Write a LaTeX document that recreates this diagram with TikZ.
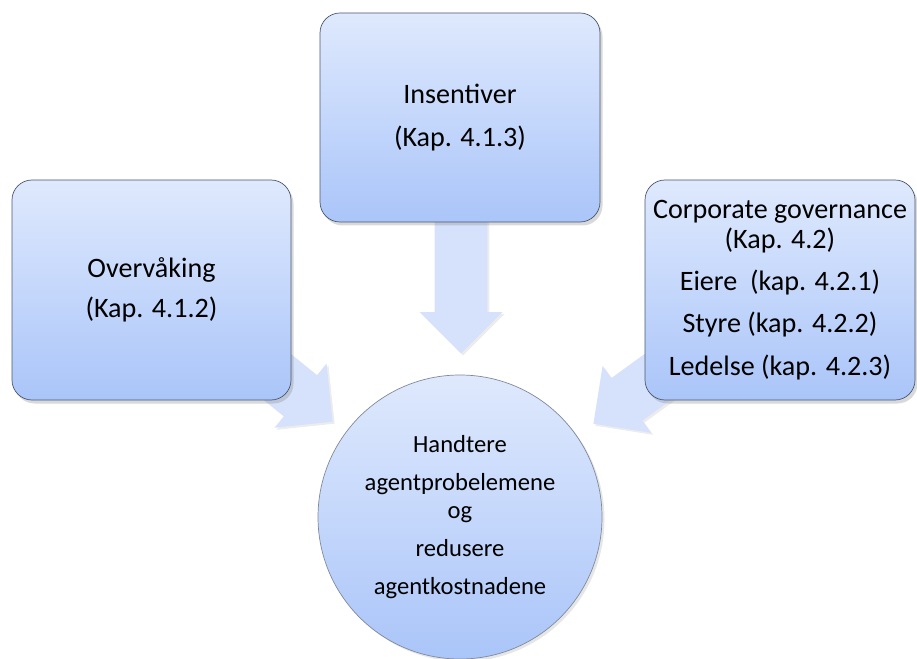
\documentclass[tikz,border=0pt]{standalone}
\usepackage{fontspec}
\setmainfont{Carlito}
\usetikzlibrary{positioning, shapes.arrows, shadows}

\definecolor{boxtop}{HTML}{DFE9FD}
\definecolor{boxbottom}{HTML}{AAC5F9}
\definecolor{boxline}{HTML}{4A5870}
\definecolor{arrowfill}{HTML}{D6E2FB}

\begin{document}
\begin{tikzpicture}[
    font=\fontsize{16}{17}\selectfont,
    topic/.style={draw=boxline, thin, rounded corners=0.4cm,
        top color=boxtop, bottom color=boxbottom, align=center,
        minimum width=5.58cm, minimum height=4.4cm,
        drop shadow={shadow xshift=0.05cm, shadow yshift=-0.07cm, opacity=0.3}},
    fatarrow/.style={single arrow, fill=arrowfill, draw=none,
        inner xsep=0pt, inner ysep=0.52cm,
        minimum height=2.7cm, single arrow head extend=0.3cm,
        drop shadow={shadow xshift=0.04cm, shadow yshift=-0.04cm, opacity=0.15}}
]
\useasboundingbox (0,0) rectangle (18.34,13.16);

% Block arrows (behind the boxes)
\node[fatarrow, rotate=-90, anchor=tip] (pilTopp) at (9.22,6.08) {};
\node[fatarrow, rotate=-39, anchor=tip] (pilVenstre) at (6.66,4.72) {};
\node[fatarrow, rotate=-144, anchor=tip] (pilHoyre) at (11.86,4.68) {};

% Boxes
\node[topic] (overvaking) at (3.03,7.36) {Overvåking\\[6pt](Kap. 4.1.2)};
\node[topic, minimum width=5.6cm, minimum height=4.18cm] (insentiver) at (9.2,10.81)
    {Insentiver\\[7pt](Kap. 4.1.3)};
\node[topic, minimum width=5.4cm] (governance) at (15.6,7.36)
    {Corporate governance\\(Kap. 4.2)\\[7pt]Eiere\ \ (kap. 4.2.1)\\[7pt]Styre (kap. 4.2.2)\\[7pt]Ledelse (kap. 4.2.3)};

% Goal
\node[circle, draw=boxline!70, thin, top color=boxtop, bottom color=boxbottom,
    minimum size=5.68cm, align=center, font=\fontsize{14}{15.9}\selectfont,
    drop shadow={shadow xshift=0.05cm, shadow yshift=-0.05cm, opacity=0.2}]
    (maal) at (9.2,2.82)
    {Handtere\\[5.8pt]agentprobelemene\\og\\[5.8pt]redusere\\[5.8pt]agentkostnadene};

\end{tikzpicture}
\end{document}
